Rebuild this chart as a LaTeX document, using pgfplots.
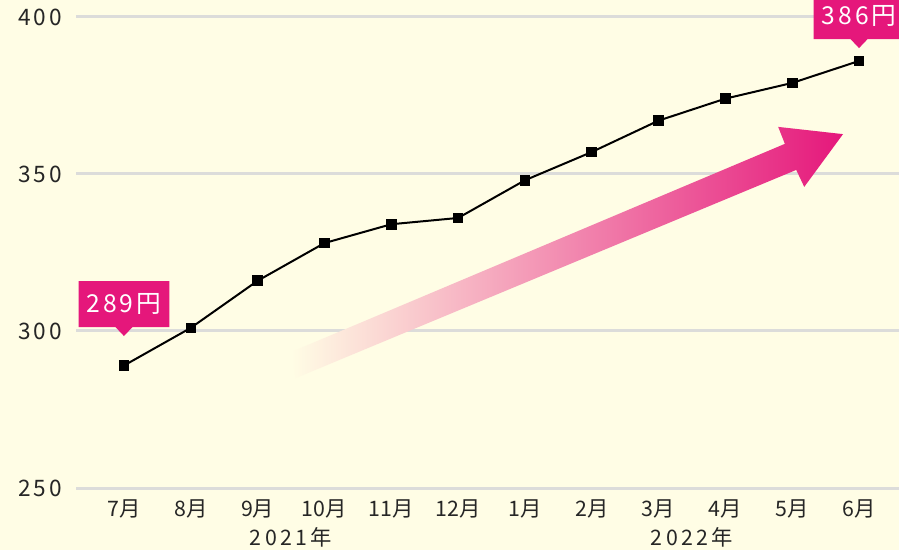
\documentclass[border=0pt]{standalone}
\usepackage{fontspec}
\setmainfont{Noto Sans CJK JP}
\newfontfamily\tickfont[LetterSpace=12]{Noto Sans CJK JP}
\newfontfamily\yearfont[LetterSpace=16]{Noto Sans CJK JP}
\usepackage{pgfplots}
\pgfplotsset{compat=1.18}
\definecolor{bg}{HTML}{FFFDE5}
\definecolor{mag}{HTML}{E5177B}
\definecolor{midpink}{HTML}{F3A3C0}
\definecolor{gridc}{HTML}{DCDCDA}
\begin{document}
\begin{tikzpicture}[x=1pt,y=1pt]
\path[use as bounding box] (0,0) rectangle (674.25,412.5);
\clip (0,0) rectangle (674.25,412.5);
\fill[bg] (0,0) rectangle (674.25,412.5);
\begin{axis}[
  at={(57pt,46.5pt)}, anchor=south west,
  scale only axis, width=617.25pt, height=353.25pt,
  xmin=-0.718, xmax=11.598, ymin=250, ymax=400,
  axis line style={draw=none},
  major tick length=0pt,
  ytick={250,300,350,400},
  xtick={0,...,11},
  xticklabels={7月,8月,9月,10月,11月,12月,1月,2月,3月,4月,5月,6月},
  ymajorgrids, xmajorgrids=false,
  grid style={gridc, line width=2.25pt},
  /pgf/number format/assume math mode=true,
  yticklabel style={anchor=east, inner sep=0pt, xshift=-10.5pt, font=\tickfont\fontsize{17}{18}\selectfont, text=black!85},
  xticklabel style={anchor=base, inner sep=0pt, yshift=-21.5pt, font=\fontsize{16}{18}\selectfont, text=black!85},
  clip=false,
]
\shade[left color=bg, middle color=midpink, right color=mag]
  (axis cs:2.50,293.3) -- (axis cs:9.89,359.6) -- (axis cs:9.79,365.0) -- (axis cs:10.76,362.7)
  -- (axis cs:10.18,345.9) -- (axis cs:10.06,351.3) -- (axis cs:2.57,285.0) -- cycle;
\addplot[black, line width=1.5pt, mark=square*, mark size=3.6pt, mark options={solid, line width=0pt, fill=black}]
  coordinates {(0,289)(1,301)(2,316)(3,328)(4,334)(5,336)(6,348)(7,357)(8,367)(9,374)(10,379)(11,386)};
\node[anchor=base, inner sep=0pt, font=\yearfont\fontsize{16}{18}\selectfont, text=black!85] at ([yshift=-43pt]axis cs:2.5,250) {2021年};
\node[anchor=base, inner sep=0pt, font=\yearfont\fontsize{16}{18}\selectfont, text=black!85] at ([yshift=-43pt]axis cs:8.5,250) {2022年};
% callouts
\fill[mag] (axis cs:0,298.4) -- ++(6.4pt,6.75pt) -- ++(27.7pt,0pt) -- ++(0pt,34.5pt) -- ++(-68.2pt,0pt) -- ++(0pt,-34.5pt) -- ++(27.7pt,0pt) -- cycle;
\node[white, inner sep=0pt, font=\tickfont\fontsize{18.5}{20}\selectfont] at ([yshift=24pt]axis cs:0,298.4) {289円};
\fill[mag] (axis cs:11,390.1) -- ++(6.4pt,6.75pt) -- ++(27.7pt,0pt) -- ++(0pt,34.5pt) -- ++(-68.2pt,0pt) -- ++(0pt,-34.5pt) -- ++(27.7pt,0pt) -- cycle;
\node[white, inner sep=0pt, font=\tickfont\fontsize{18.5}{20}\selectfont] at ([yshift=24pt]axis cs:11,390.1) {386円};
\end{axis}
\end{tikzpicture}
\end{document}
